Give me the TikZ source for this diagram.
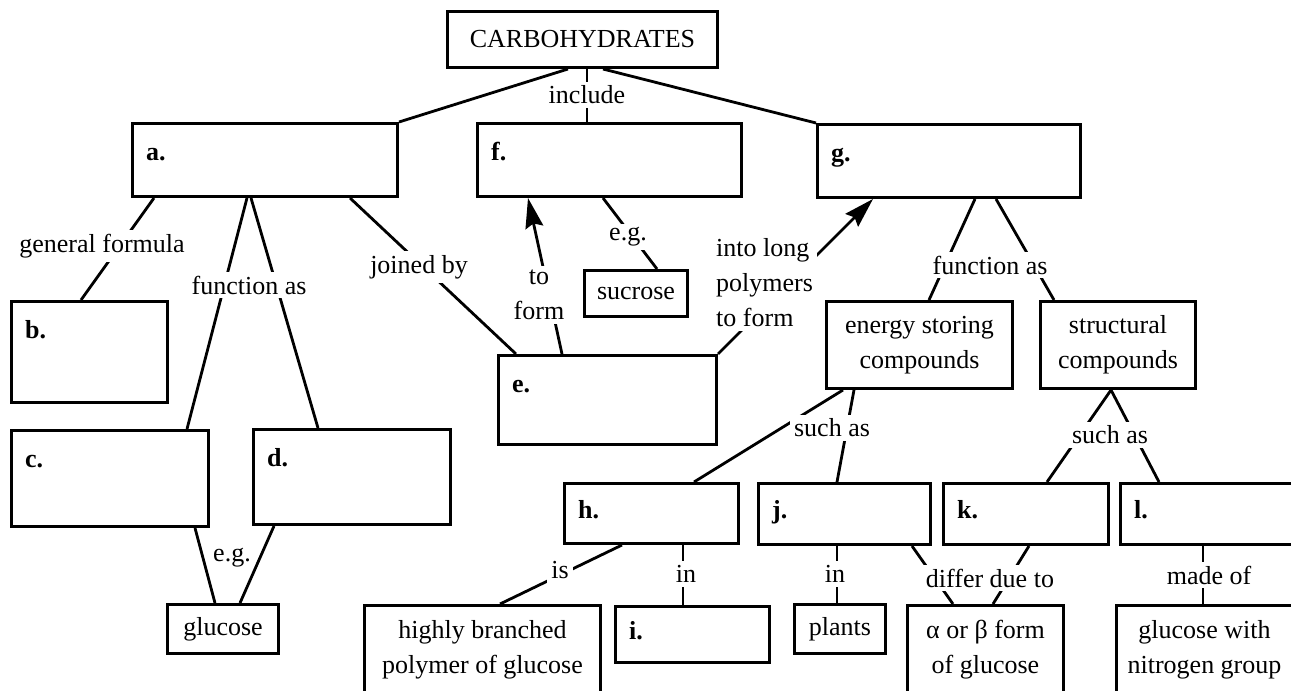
\documentclass[tikz,border=0pt]{standalone}
\usepackage{fontspec}
\setmainfont{Liberation Serif}
\usetikzlibrary{arrows.meta}
\newcommand\dfont{\fontsize{26}{35}\selectfont}
\begin{document}
\begin{tikzpicture}[x=1pt,y=-1pt,
  box/.style={draw, line width=3pt, inner sep=0pt, anchor=north west, font=\dfont, align=center},
  conn/.style={line width=2.8pt},
  lab/.style={fill=white, inner sep=4pt, font=\dfont, align=center},
  letter/.style={anchor=base west, inner sep=0pt, font=\dfont\bfseries},
  arr/.style={conn, -{Stealth[length=30pt,width=18pt,inset=4pt]}}
]
\useasboundingbox (0,0) rectangle (1291,691);
\clip (0,0) rectangle (1291,691);
% boxes
\node[box, minimum width=270pt, minimum height=56pt] (carb) at (446,10) {CARBOHYDRATES};
\node[box, minimum width=265pt, minimum height=73pt] (a) at (131,122) {};
\node[box, minimum width=264pt, minimum height=73pt] (f) at (476,122) {};
\node[box, minimum width=263pt, minimum height=73pt] (g) at (816,123) {};
\node[box, minimum width=156pt, minimum height=101pt] (b) at (10,300) {};
\node[box, minimum width=103pt, minimum height=46pt] (sucrose) at (583,269) {sucrose};
\node[box, minimum width=186pt, minimum height=87pt] (energy) at (825,300) {energy storing\\compounds};
\node[box, minimum width=155pt, minimum height=87pt] (structural) at (1039,300) {structural\\compounds};
\node[box, minimum width=218pt, minimum height=89pt] (e) at (497,354) {};
\node[box, minimum width=197pt, minimum height=96pt] (c) at (10,429) {};
\node[box, minimum width=197pt, minimum height=95pt] (d) at (252,428) {};
\node[box, minimum width=174pt, minimum height=60pt] (h) at (563,482) {};
\node[box, minimum width=172pt, minimum height=61pt] (j) at (757,482) {};
\node[box, minimum width=165pt, minimum height=61pt] (k) at (942,482) {};
\node[box, minimum width=172pt, minimum height=61pt] (l) at (1119,482) {};
\node[box, minimum width=111pt, minimum height=49pt] (glucose) at (166,603) {glucose};
\node[box, minimum width=236pt, minimum height=88pt] (hb) at (363,604) {highly branched\\polymer of glucose};
\node[box, minimum width=154pt, minimum height=56pt] (i) at (614,605) {};
\node[box, minimum width=91pt, minimum height=49pt] (plants) at (793,603) {plants};
\node[box, minimum width=156pt, minimum height=88pt] (alpha) at (906,604) {α or β form\\of glucose};
\node[box, minimum width=176pt, minimum height=88pt] (gn) at (1115,604) {glucose with\\nitrogen group};
% letters
\node[letter] (ta) at ([xshift=15pt,yshift=-38pt]a.north west) {a.};
\node[letter] (tb) at ([xshift=15pt,yshift=-38pt]b.north west) {b.};
\node[letter] (tc) at ([xshift=15pt,yshift=-38pt]c.north west) {c.};
\node[letter] (td) at ([xshift=15pt,yshift=-38pt]d.north west) {d.};
\node[letter] (te) at ([xshift=15pt,yshift=-38pt]e.north west) {e.};
\node[letter] (tf) at ([xshift=15pt,yshift=-38pt]f.north west) {f.};
\node[letter] (tg) at ([xshift=15pt,yshift=-38pt]g.north west) {g.};
\node[letter] (th) at ([xshift=15pt,yshift=-36pt]h.north west) {h.};
\node[letter] (ti) at ([xshift=15pt,yshift=-34pt]i.north west) {i.};
\node[letter] (tj) at ([xshift=15pt,yshift=-36pt]j.north west) {j.};
\node[letter] (tk) at ([xshift=15pt,yshift=-36pt]k.north west) {k.};
\node[letter] (tl) at ([xshift=15pt,yshift=-36pt]l.north west) {l.};
% connectors
\draw[conn] ([xshift=122pt]carb.south west) -- (a.north east);
\draw[conn] ([xshift=157pt]carb.south west) -- (g.north west);
\draw[conn] ([xshift=141pt]carb.south west) -- ([xshift=111pt]f.north west);
\draw[conn] ([xshift=23pt]a.south west) -- ([xshift=71pt]b.north west);
\draw[conn] ([xshift=116pt]a.south west) -- ([xshift=177pt]c.north west);
\draw[conn] ([xshift=120pt]a.south west) -- ([xshift=66pt]d.north west);
\draw[conn] ([xshift=219pt]a.south west) -- ([xshift=19pt]e.north west);
\draw[arr] ([xshift=65pt]e.north west) -- ([xshift=52pt]f.south west);
\draw[conn] ([xshift=127pt]f.south west) -- ([xshift=74pt]sucrose.north west);
\draw[arr] (e.north east) -- ([xshift=57pt]g.south west);
\draw[conn] ([xshift=159pt]g.south west) -- ([xshift=104pt]energy.north west);
\draw[conn] ([xshift=180pt]g.south west) -- ([xshift=15pt]structural.north west);
\draw[conn] ([xshift=18pt]energy.south west) -- ([xshift=131pt]h.north west);
\draw[conn] ([xshift=29pt]energy.south west) -- ([xshift=80pt]j.north west);
\draw[conn] ([xshift=72pt]structural.south west) -- ([xshift=105pt]k.north west);
\draw[conn] ([xshift=72pt]structural.south west) -- ([xshift=40pt]l.north west);
\draw[conn] ([xshift=59pt]h.south west) -- ([xshift=137pt]hb.north west);
\draw[conn] ([xshift=120pt]h.south west) -- ([xshift=69pt]i.north west);
\draw[conn] ([xshift=80pt]j.south west) -- ([xshift=44pt]plants.north west);
\draw[conn] ([xshift=155pt]j.south west) -- ([xshift=47pt]alpha.north west);
\draw[conn] ([xshift=87pt]k.south west) -- ([xshift=87pt]alpha.north west);
\draw[conn] ([xshift=84pt]l.south west) -- ([xshift=88pt]gn.north west);
\draw[conn] ([xshift=185pt]c.south west) -- ([xshift=49pt]glucose.north west);
\draw[conn] ([xshift=22pt]d.south west) -- ([xshift=74pt]glucose.north west);
% labels
\node[lab] (linclude) at (587,95) {include};
\node[lab] (lgf) at (102,246) {general formula};
\node[lab] (lfa1) at (249,285) {function as};
\node[lab] (ljb) at (419,267) {joined by};
\node[lab] (ltf) at (539,295) {to\\form};
\node[lab] (leg1) at (628,237) {e.g.};
\node[lab, align=left, anchor=west] (lil) at (712,283) {into long\\polymers\\to form};
\node[lab] (lfa2) at (990,265) {function as};
\node[lab] (lsa1) at (832,428) {such as};
\node[lab] (lsa2) at (1110,435) {such as};
\node[lab] (lis) at (560,570) {is};
\node[lab] (lin1) at (686,574) {in};
\node[lab] (lin2) at (835,574) {in};
\node[lab] (ldd) at (990,578) {differ due to};
\node[lab] (lmo) at (1209,575) {made of};
\node[lab, fill=none, inner sep=1pt] (leg2) at (232,558) {e.g.};
\end{tikzpicture}
\end{document}
